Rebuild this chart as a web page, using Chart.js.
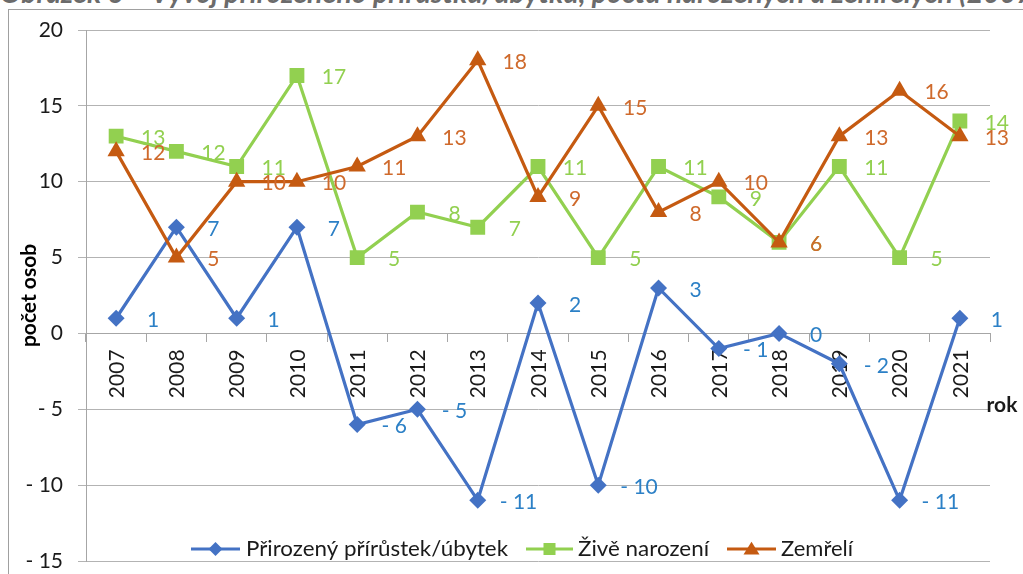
<!DOCTYPE html>
<html><head><meta charset="utf-8">
<script src="https://cdn.jsdelivr.net/npm/chart.js@4"></script>
<style>
html,body{margin:0;padding:0;background:#fff;}
#wrap{position:relative;width:1023px;height:574px;overflow:hidden;background:#fff;}
#title{position:absolute;left:0;top:-22px;white-space:nowrap;font:italic bold 28.5px Lato, sans-serif;color:#6b6b6b;line-height:28px;}
#frameTop{position:absolute;left:8px;top:9px;right:0;height:0;border-top:1px solid #a0a0a0;}
#frameLeft{position:absolute;left:8px;top:9px;bottom:0;width:0;border-left:1px solid #a0a0a0;}
canvas{position:absolute;left:0;top:0;}
</style></head>
<body>
<div id="wrap">
<div id="title">Obrázek 6 – Vývoj přirozeného přírůstku/úbytku, počtu narozených a zemřelých (2007–2021)</div>
<div id="frameTop"></div><div id="frameLeft"></div>
<canvas id="c" width="1023" height="574"></canvas>
</div>
<script>
// ---- data ----
const years = ['2007','2008','2009','2010','2011','2012','2013','2014','2015','2016','2017','2018','2019','2020','2021'];
const seriesNames = ['Přirozený přírůstek/úbytek', 'Živě narození', 'Zemřelí'];
const naturalChange = [1, 7, 1, 7, -6, -5, -11, 2, -10, 3, -1, 0, -2, -11, 1];
const liveBirths    = [13, 12, 11, 17, 5, 8, 7, 11, 5, 11, 9, 6, 11, 5, 14];
const deaths        = [12, 5, 10, 10, 11, 13, 18, 9, 15, 8, 10, 6, 13, 16, 13];
const yMin = -15, yMax = 20, yStep = 5;
const yTitle = 'počet osob';
const xTitle = 'rok';

// ---- styles ----
const lineColors  = ['#4472C4', '#92D050', '#C55A11'];
const labelColors = ['#2C80C6', '#92D050', '#CF6A2C'];
const markerStyles = ['rectRot', 'rect', 'triangle'];
const markerRadii = [8.5, 10.5, 10];
const FONT = 'Lato, "Open Sans", sans-serif';
const fmt = v => v < 0 ? '- ' + Math.abs(v) : String(v);

function drawMarker(ctx, style, x, y, r, color) {
  ctx.save();
  ctx.fillStyle = color;
  ctx.beginPath();
  if (style === 'rectRot') {
    ctx.moveTo(x, y - r); ctx.lineTo(x + r, y); ctx.lineTo(x, y + r); ctx.lineTo(x - r, y);
  } else if (style === 'rect') {
    const s = r * Math.SQRT1_2;
    ctx.rect(x - s, y - s, 2 * s, 2 * s);
  } else {
    const h = r * 0.9;
    ctx.moveTo(x, y - h); ctx.lineTo(x + r, y + h * 0.75); ctx.lineTo(x - r, y + h * 0.75);
  }
  ctx.closePath();
  ctx.fill();
  ctx.restore();
}

const xLabelsPlugin = {
  id: 'xLabels',
  beforeDatasetsDraw(chart) {
    const ctx = chart.ctx, xs = chart.scales.x, ys = chart.scales.y;
    const y0 = ys.getPixelForValue(0);
    ctx.save();
    ctx.font = '21px ' + FONT;
    ctx.fillStyle = '#1a1a1a';
    ctx.textAlign = 'right';
    ctx.textBaseline = 'middle';
    years.forEach((lab, i) => {
      const x = xs.getPixelForTick(i);
      ctx.save();
      ctx.translate(x + 1, y0 + 16);
      ctx.rotate(-Math.PI / 2);
      ctx.fillText(lab, 0, 0);
      ctx.restore();
    });
    ctx.font = 'bold 21px ' + FONT;
    ctx.textAlign = 'center';
    ctx.fillText(xTitle, chart.chartArea.right + 12, y0 + 72);
    ctx.restore();
  }
};

const dataLabelsPlugin = {
  id: 'dataLabels',
  afterDatasetsDraw(chart) {
    const ctx = chart.ctx;
    ctx.save();
    ctx.font = '21px ' + FONT;
    ctx.textAlign = 'center';
    ctx.textBaseline = 'middle';
    chart.data.datasets.forEach((ds, di) => {
      const meta = chart.getDatasetMeta(di);
      ctx.fillStyle = labelColors[di];
      meta.data.forEach((pt, i) => {
        const t = fmt(ds.data[i]);
        const w = ctx.measureText(t).width;
        const cx = pt.x + 37 + Math.max(0, (w - 30) / 2);
        ctx.fillText(t, cx, pt.y + 2);
      });
    });
    ctx.restore();
  }
};

const legendPlugin = {
  id: 'customLegend',
  afterDraw(chart) {
    const ctx = chart.ctx;
    const y = 549;
    const items = [
      {x1: 191, x2: 240, tx: 246, tw: 262},
      {x1: 526, x2: 573, tx: 578, tw: 131},
      {x1: 727, x2: 776, tx: 781, tw: 72}
    ];
    ctx.save();
    ctx.font = '21px ' + FONT;
    ctx.textBaseline = 'middle';
    ctx.textAlign = 'left';
    items.forEach((it, i) => {
      ctx.strokeStyle = lineColors[i];
      ctx.lineWidth = 3;
      ctx.beginPath(); ctx.moveTo(it.x1, y); ctx.lineTo(it.x2, y); ctx.stroke();
      drawMarker(ctx, markerStyles[i], (it.x1 + it.x2) / 2, y, [7, 8.5, 8][i], lineColors[i]);
      const w = ctx.measureText(seriesNames[i]).width;
      ctx.save();
      ctx.translate(it.tx, y);
      ctx.scale(it.tw / w, 1);
      ctx.fillStyle = '#1a1a1a';
      ctx.fillText(seriesNames[i], 0, 0);
      ctx.restore();
    });
    ctx.restore();
  }
};

const datasets = [naturalChange, liveBirths, deaths].map((arr, i) => ({
  label: seriesNames[i],
  data: arr,
  borderColor: lineColors[i],
  backgroundColor: lineColors[i],
  pointBackgroundColor: lineColors[i],
  pointBorderColor: lineColors[i],
  pointBorderWidth: 0,
  pointStyle: markerStyles[i],
  pointRadius: markerRadii[i],
  borderWidth: 3.2,
  tension: 0,
  fill: false,
  order: 3 - i
}));

new Chart(document.getElementById('c'), {
  type: 'line',
  data: { labels: years, datasets },
  options: {
    responsive: false,
    animation: false,
    devicePixelRatio: 1,
    layout: { padding: { top: 30, right: 33, bottom: 13, left: 0 } },
    plugins: { legend: { display: false }, tooltip: { enabled: false } },
    scales: {
      x: {
        position: { y: 0 },
        offset: true,
        grid: { drawOnChartArea: false, drawTicks: true, tickLength: 8, color: '#a6a6a6', offset: true },
        border: { color: '#a6a6a6', width: 1 },
        ticks: { display: false },
        afterFit(s) { s.height = 0; s.paddingLeft = 0; s.paddingRight = 0; }
      },
      y: {
        min: yMin, max: yMax,
        ticks: { stepSize: yStep, callback: v => fmt(v), font: { size: 21, family: FONT }, color: '#1a1a1a', padding: 15 },
        grid: { color: '#b3b3b3', tickLength: 8, lineWidth: 1 },
        border: { color: '#a6a6a6', width: 1 },
        title: { display: true, text: yTitle, font: { size: 21, family: FONT, weight: 'bold' }, color: '#000', padding: { top: 17, bottom: 0 } },
        afterFit(s) { s.width = 86; s.paddingTop = 0; s.paddingBottom = 0; }
      }
    }
  },
  plugins: [xLabelsPlugin, dataLabelsPlugin, legendPlugin]
});
</script>
</body></html>
